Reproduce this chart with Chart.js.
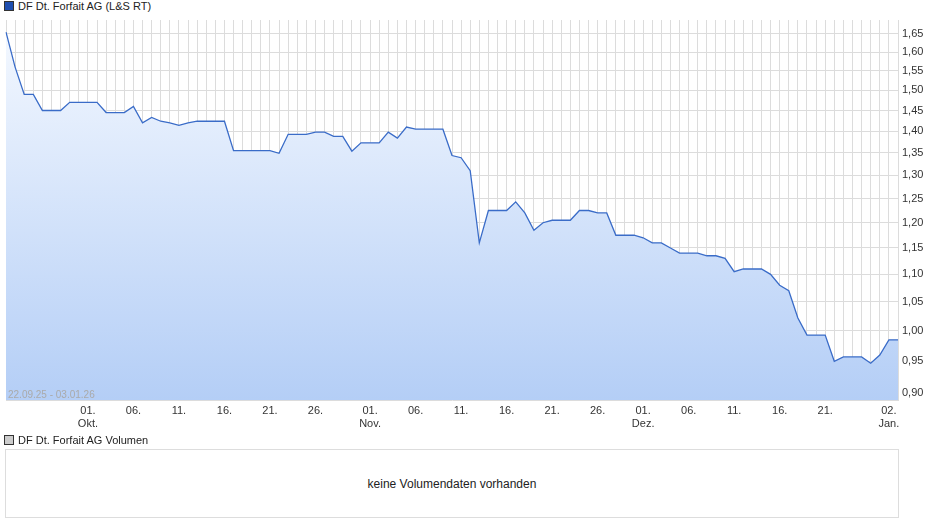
<!DOCTYPE html>
<html>
<head>
<meta charset="utf-8">
<script src="https://cdn.jsdelivr.net/npm/chart.js@4"></script>
<style>
  body { margin:0; width:940px; height:526px; background:#fff; font-family:"Liberation Sans", Arial, sans-serif; font-size:11px; color:#222; position:relative; overflow:hidden; }
  .leg { position:absolute; left:4px; display:flex; align-items:center; }
  .leg i { display:inline-block; width:8px; height:8px; margin-right:4px; border:1px solid #333; }
  #wrap { position:absolute; left:0; top:0; width:940px; height:432px; }
  #vol { position:absolute; left:5px; top:449px; width:892px; height:67px; border:1px solid #ddd; display:flex; align-items:center; justify-content:center; font-size:12px; }
  #range { position:absolute; left:8px; top:389px; color:#aaa; font-size:10px; }
</style>
</head>
<body>
<div class="leg" style="top:0px"><i style="background:#1f4fb0"></i>DF Dt. Forfait AG (L&amp;S RT)</div>
<div id="wrap"><canvas id="chart"></canvas></div>
<div id="range">22.09.25 - 03.01.26</div>
<div class="leg" style="top:434px"><i style="background:#ccc"></i>DF Dt. Forfait AG Volumen</div>
<div id="vol">keine Volumendaten vorhanden</div>
<script>
// Kurs je Kalendertag (ohne Feiertage 24.-26.12., 31.12., 01.01.)
const prices = [
  1.655, 1.56, 1.49, 1.49, 1.45, 1.45, 1.45, 1.47, 1.47, 1.47,
  1.47, 1.445, 1.445, 1.445, 1.46, 1.42, 1.433, 1.424, 1.42, 1.414,
  1.42, 1.424, 1.424, 1.424, 1.424, 1.355, 1.355, 1.355, 1.355, 1.355,
  1.349, 1.393, 1.393, 1.393, 1.398, 1.398, 1.388, 1.388, 1.354, 1.373,
  1.373, 1.373, 1.398, 1.384, 1.41, 1.405, 1.405, 1.405, 1.405, 1.344,
  1.339, 1.31, 1.16, 1.225, 1.225, 1.225, 1.243, 1.22, 1.185, 1.20,
  1.205, 1.205, 1.205, 1.225, 1.225, 1.22, 1.22, 1.175, 1.175, 1.175,
  1.17, 1.16, 1.16, 1.15, 1.14, 1.14, 1.14, 1.135, 1.135, 1.13,
  1.105, 1.11, 1.11, 1.11, 1.10, 1.08, 1.07, 1.022, 0.993, 0.993,
  0.993, 0.95, 0.957, 0.957, 0.957, 0.947, 0.96, 0.985, 0.985
];
const holidays = ["2025-12-24", "2025-12-25", "2025-12-26", "2025-12-31", "2026-01-01"];
const yTicks = [0.90, 0.95, 1.00, 1.05, 1.10, 1.15, 1.20, 1.25, 1.30, 1.35, 1.40, 1.45, 1.50, 1.55, 1.60, 1.65];
const labelDays = [1, 6, 11, 16, 21, 26];
const monthNames = ["Jan.", "Feb.", "Mär.", "Apr.", "Mai", "Jun.", "Jul.", "Aug.", "Sep.", "Okt.", "Nov.", "Dez."];

const dates = [];
let d = new Date(Date.UTC(2025, 8, 22));
while (dates.length < prices.length) {
  const s = d.toISOString().slice(0, 10);
  if (!holidays.includes(s)) dates.push(new Date(d));
  d.setUTCDate(d.getUTCDate() + 1);
}
const categories = dates.map(x => x.toISOString().slice(0, 10));

function tickLabel(i) {
  const x = dates[i];
  const day = x.getUTCDate();
  if (x.getUTCMonth() === 8) return "";
  const isJan2 = x.getUTCMonth() === 0 && day === 2;
  if (!labelDays.includes(day) && !isJan2) return "";
  const dd = String(day).padStart(2, "0") + ".";
  if (day === 1 || isJan2) return [dd, monthNames[x.getUTCMonth()]];
  return dd;
}

const ctx = document.getElementById("chart");
new Chart(ctx, {
  type: "line",
  data: {
    labels: categories,
    datasets: [{
      data: prices,
      borderColor: "#3a6cc8",
      borderWidth: 1.3,
      pointRadius: 0,
      tension: 0,
      fill: "start",
      backgroundColor: (c) => {
        const a = c.chart.chartArea;
        if (!a) return "#dbe8fb";
        const g = c.chart.ctx.createLinearGradient(0, a.top, 0, a.bottom);
        g.addColorStop(0, "#f5f9ff");
        g.addColorStop(1, "#b4cef6");
        return g;
      }
    }]
  },
  options: {
    responsive: true,
    maintainAspectRatio: false,
    animation: false,
    layout: { padding: { top: 20, left: 6, right: 0, bottom: 0 } },
    plugins: { legend: { display: false }, tooltip: { enabled: false } },
    scales: {
      x: {
        offset: false,
        grid: { color: "#dcdcdc", drawTicks: false },
        border: { color: "#dcdcdc" },
        afterFit: s => { s.height = 32; },
        ticks: {
          autoSkip: false, maxRotation: 0, padding: 4,
          color: "#333", font: { family: "Liberation Sans", size: 11 },
          callback: (v, i) => tickLabel(i)
        }
      },
      y: {
        type: "logarithmic",
        position: "right",
        min: 0.891, max: 1.689,
        grid: { color: "#dcdcdc", drawTicks: false },
        border: { color: "#dcdcdc" },
        afterBuildTicks: s => { s.ticks = yTicks.map(v => ({ value: v })); },
        afterFit: s => { s.width = 42; },
        ticks: {
          padding: 4, color: "#333", font: { family: "Liberation Sans", size: 11 },
          callback: v => Number(v).toFixed(2).replace(".", ",")
        }
      }
    }
  }
});
</script>
</body>
</html>
